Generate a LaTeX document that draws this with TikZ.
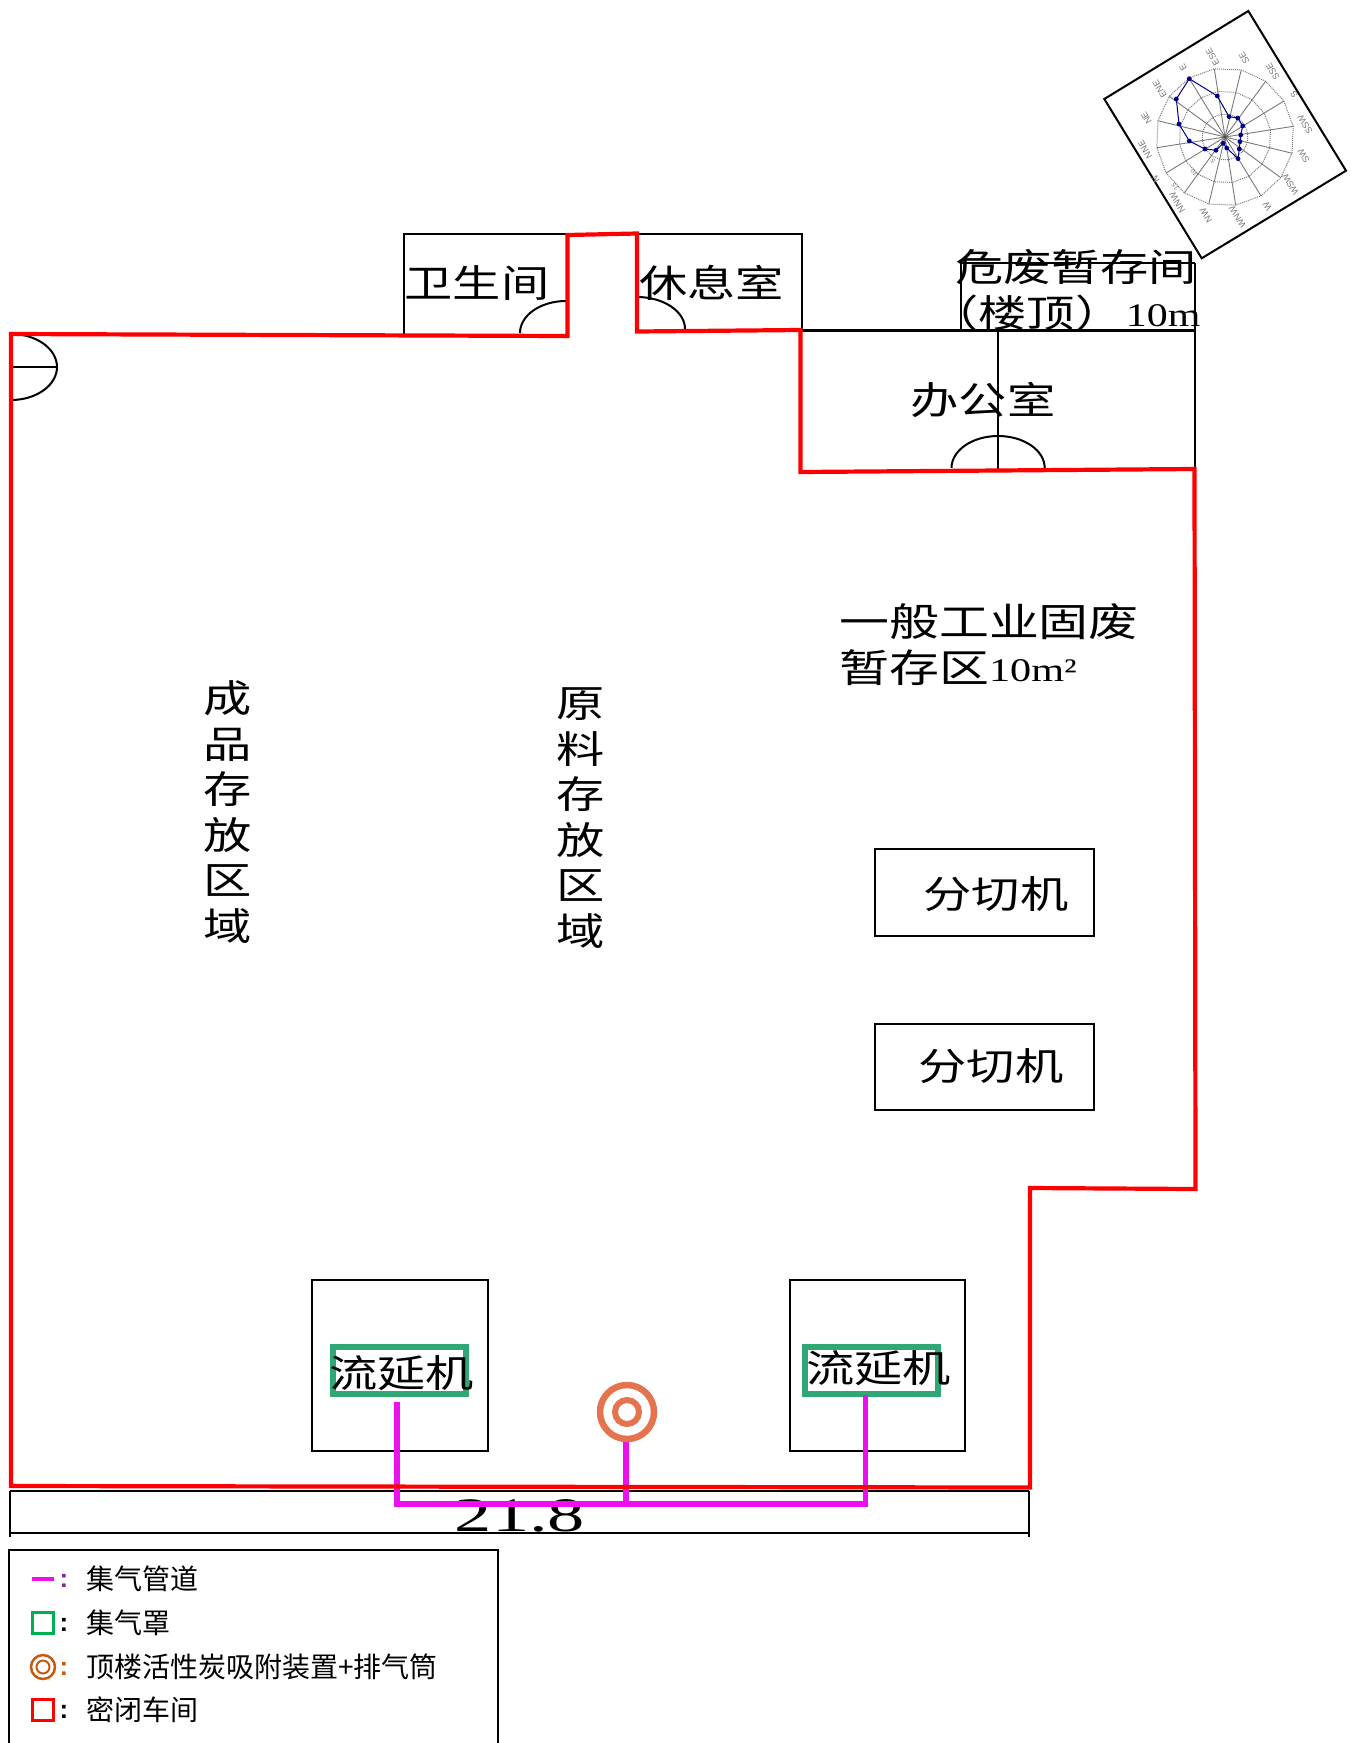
\documentclass[tikz,border=0pt]{standalone}
\usepackage{fontspec}
\setmainfont{Noto Sans CJK SC}
\newfontfamily\ser{Liberation Serif}
\newfontfamily\rosef{Liberation Sans}
\definecolor{redwall}{HTML}{FF0000}
\definecolor{pipe}{HTML}{EE0FEE}
\definecolor{hood}{HTML}{2FA876}
\definecolor{stack}{HTML}{E5734D}
\definecolor{legstack}{HTML}{C55A11}
\definecolor{leghood}{HTML}{00B050}
\definecolor{legcolon}{HTML}{7030A0}
\definecolor{rosegrey}{HTML}{7A7A7A}
\definecolor{rosedata}{HTML}{00008B}
\newcommand{\fs}[1]{\fontsize{#1}{#1}\selectfont}
\tikzset{
  wall/.style={draw=black,line width=2pt},
  thickwall/.style={draw=black,line width=3pt},
  redline/.style={draw=redwall,line width=4.2pt,line join=miter},
  hoodbox/.style={draw=hood,line width=6pt},
  pipeline/.style={draw=pipe,line width=5.5pt},
  lbl/.style={inner sep=0pt,xscale=1.27,font=\fs{38}},
  lblb/.style={inner sep=0pt,xscale=1.28,anchor=west,font=\fs{39}},
  vlbl/.style={inner sep=0pt,xscale=1.27,font=\fontsize{38}{45.6}\selectfont,align=center},
  legtxt/.style={inner sep=0pt,anchor=west,font=\fs{28}},
  legcol/.style={inner sep=0pt,font=\rosef\bfseries\fs{26}},
  windlbl/.style={inner sep=0pt,font=\rosef\fs{9},text=rosegrey,rotate=121.4},
  ticklbl/.style={inner sep=0pt,font=\rosef\fs{6.5},text=rosegrey,rotate=121.4},
}
\begin{document}
\begin{tikzpicture}[x=1pt,y=-1pt]
\useasboundingbox (0,0) rectangle (1351,1743);

% --- wind rose ---
\coordinate (rc) at (1225,137);
\draw[line width=2pt,fill=white] (1248.3,11) -- (1346,170.7) -- (1201.7,258.3) -- (1104.3,99) -- cycle;
\begin{scope}[shift={(rc)},x=1pt,y=1pt]
  \foreach \r in {23,46,69}{
    \draw[rosegrey,line width=1pt,densely dotted]
      (8.9:\r) \foreach \k in {1,...,15}{ -- ({8.9+22.5*\k}:\r) } -- cycle;
  }
  \foreach \k in {0,...,15}{
    \draw[rosegrey,line width=.9pt] (0,0) -- ({8.9+22.5*\k}:69);
  }
  \foreach \lab/\b in {N/0,NNE/22.5,NE/45,ENE/67.5,E/90,ESE/112.5,SE/135,SSE/157.5,S/180,SSW/202.5,SW/225,WSW/247.5,W/270,WNW/292.5,NW/315,NNW/337.5}{
    \node[windlbl] (w\lab) at ({211.4-\b}:81) {\lab};
  }
  \fill[black!70] (0,0) circle (1.8pt);
\end{scope}
\node[ticklbl] (tick1) at (1213,161) {5};
\node[ticklbl] (tick2) at (1194,173) {10};
\node[ticklbl] (tick3) at (1175,187) {15};
\draw[rosedata,line width=1pt]
  (1189.3,78.7) -- (1217.3,96) -- (1229,116.7) -- (1237.7,118) -- (1242.7,126) -- (1240.7,135)
  -- (1240,141.7) -- (1239.3,149) -- (1238,158.7) -- (1226.7,148) -- (1223.3,143.3)
  -- (1216,150.3) -- (1205,149) -- (1189.3,141) -- (1179,124) -- (1176.3,99) -- cycle;
\foreach \px/\py in {1189.3/78.7,1217.3/96,1229/116.7,1237.7/118,1242.7/126,1240.7/135,1240/141.7,1239.3/149,1238/158.7,1226.7/148,1223.3/143.3,1216/150.3,1205/149,1189.3/141,1179/124,1176.3/99}{
  \fill[rosedata] (\px,\py) circle (2.4pt);
}

% --- rooms ---
\draw[wall] (403.6,335) -- (403.6,234.3) -- (566,234.3);
\draw[wall] (637,234.3) -- (801.5,234.3) -- (801.5,330);
\draw[thickwall] (801,330) -- (1194.7,330);
\draw[wall] (801,330) -- (801,469);
\draw[wall] (1194.7,263) -- (1194.7,469);
\draw[wall] (961,330) -- (961,263) -- (1194.7,263);
\draw[wall] (998,330) -- (998,469);
% doors
\draw[wall] (951.5,468) arc[start angle=180,end angle=0,x radius=46.6pt,y radius=32pt];
\draw[wall] (520,333) arc[start angle=180,end angle=90,x radius=46pt,y radius=32pt];
\draw[wall] (637,297) arc[start angle=90,end angle=0,x radius=48pt,y radius=32pt];
\draw[wall] (11,334) arc[start angle=90,end angle=-90,x radius=46pt,y radius=33pt];
\draw[wall] (11,367) -- (57,367);

% --- machine boxes ---
\node[wall,minimum width=219pt,minimum height=86.5pt,inner sep=0pt,outer sep=0pt] (cut1) at (984,892.5) {};
\node[wall,minimum width=219pt,minimum height=86pt,inner sep=0pt,outer sep=0pt] (cut2) at (984,1066.5) {};
\node[wall,minimum width=175.5pt,minimum height=171pt,inner sep=0pt,outer sep=0pt] (cast1) at (400,1365.5) {};
\node[wall,minimum width=175.5pt,minimum height=171pt,inner sep=0pt,outer sep=0pt] (cast2) at (877.25,1365.5) {};
\node[hoodbox,minimum width=133pt,minimum height=47pt,inner sep=0pt,outer sep=0pt] (hood1) at (399.5,1370.5) {};
\node[hoodbox,minimum width=133pt,minimum height=47pt,inner sep=0pt,outer sep=0pt] (hood2) at (871.5,1370.5) {};

% --- dimension ---
\draw[wall] (10,1491) -- (1029,1491);
\draw[wall] (10,1491) -- (10,1537);
\draw[wall] (1029,1491) -- (1029,1537);
\draw[wall] (10,1533) -- (1029,1533);
\node[inner sep=0pt,xscale=1.55,font=\ser\fs{48}] (dim) at (520,1516) {21.8};

% --- pipes ---
\coordinate (p1) at (397,1402);
\coordinate (p1b) at (397,1504);
\coordinate (p2) at (865.5,1395);
\coordinate (p2b) at (865.5,1504);
\coordinate (p3) at (626,1442);
\coordinate (p3b) at (626,1504);
\draw[pipeline,line join=miter] (p1) -- (p1b) -- (p2b) -- (p2);
\draw[pipeline] (p3) -- (p3b);

% --- closed workshop ---
\draw[redline] (11,334) -- (567.5,336) -- (567.5,235) -- (637,233.5) -- (637,331.5) -- (800.5,330)
  -- (800.5,472) -- (1194.5,469) -- (1195.5,1189) -- (1030,1188) -- (1030,1487.5) -- (11,1486) -- cycle;

% --- stack ---
\node[draw=stack,line width=6.5pt,circle,minimum size=54pt,inner sep=0pt] (stk) at (627,1412) {};
\node[draw=stack,line width=6pt,circle,minimum size=24pt,inner sep=0pt] (stki) at (627,1412) {};

% --- labels ---
\node[lbl] (l1) at (477,283) {卫生间};
\node[lbl] (l2) at (711.5,283) {休息室};
\node[lbl] (l3) at (983,400) {办公室};
\node[lbl] (l4) at (1076,267) {危废暂存间};
\node[lbl,anchor=west] (l5) at (930,313) {（楼顶）\hspace{2pt}\raisebox{1pt}{\ser\fs{33}10m}};
\node[lblb] (l6) at (839,622) {一般工业固废};
\node[lblb] (l7) at (839,668) {暂存区\raisebox{1pt}{\ser\fs{33}10m²}};
\node[vlbl] (l8) at (228,812) {成\\品\\存\\放\\区\\域};
\node[vlbl] (l9) at (581,818) {原\\料\\存\\放\\区\\域};
\node[lbl] (l10) at (996,894) {分切机};
\node[lbl] (l11) at (991,1066) {分切机};
\node[lbl] (l12) at (401.5,1373) {流延机};
\node[lbl] (l13) at (878.5,1368) {流延机};

% --- legend ---
\draw[wall] (8.5,1743) -- (8.5,1550) -- (497.5,1550) -- (497.5,1743);
\coordinate (la) at (32,1579);
\coordinate (lb) at (54,1579);
\draw[pipe,line width=4pt] (la) -- (lb);
\node[legcol,text=legcolon] (c1) at (64,1581) {:};
\node[legtxt] (t1) at (86,1579) {集气管道};
\node[draw=leghood,line width=2.5pt,minimum width=21pt,minimum height=21pt,inner sep=0pt] (b2) at (43,1623) {};
\node[legcol] (c2) at (64,1625) {:};
\node[legtxt] (t2) at (86,1623) {集气罩};
\node[draw=legstack,line width=2.5pt,circle,minimum size=24pt,inner sep=0pt] (b3) at (43,1667) {};
\node[draw=legstack,line width=2pt,circle,minimum size=13pt,inner sep=0pt] (b3i) at (43,1667) {};
\node[legcol,text=legstack] (c3) at (64,1669) {:};
\node[legtxt] (t3) at (86,1667) {顶楼活性炭吸附装置+排气筒};
\node[draw=redwall,line width=2.5pt,minimum width=21pt,minimum height=21pt,inner sep=0pt] (b4) at (43,1710) {};
\node[legcol] (c4) at (64,1712) {:};
\node[legtxt] (t4) at (86,1710) {密闭车间};
\end{tikzpicture}
\end{document}
